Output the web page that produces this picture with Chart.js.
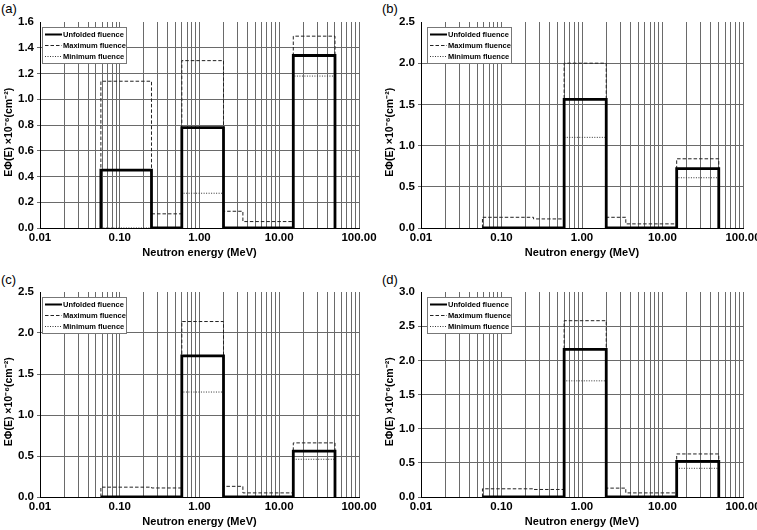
<!DOCTYPE html>
<html>
<head>
<meta charset="utf-8">
<script src="https://cdn.jsdelivr.net/npm/chart.js@4.4.1/dist/chart.umd.min.js"></script>
<style>
  html, body { margin: 0; padding: 0; background: #fff; width: 757px; height: 530px; overflow: hidden; }
  .panel { position: absolute; }
  .tag { position: absolute; font: 13px "Liberation Sans", Arial, sans-serif; color: #000; line-height: 13px; }
</style>
</head>
<body>
<div class="tag" style="left:1px;top:2px">(a)</div>
<div class="tag" style="left:382px;top:2px">(b)</div>
<div class="tag" style="left:1px;top:273px">(c)</div>
<div class="tag" style="left:382px;top:273px">(d)</div>
<div class="panel" id="panel-a"><canvas id="chart-a"></canvas></div>
<div class="panel" id="panel-b"><canvas id="chart-b"></canvas></div>
<div class="panel" id="panel-c"><canvas id="chart-c"></canvas></div>
<div class="panel" id="panel-d"><canvas id="chart-d"></canvas></div>
<script>
// bin edges of the unfolding (MeV), same for every panel
const energyEdges = [0.058, 0.25, 0.6, 2.0, 3.5, 15, 50];
const decadeTicks = [0.01, 0.1, 1, 10, 100];
const seriesLabels = ['Unfolded fluence', 'Maximum fluence', 'Minimum fluence'];

// one value per bin, x10^-6 cm^-2
const unfoldedA = [0.45, 0, 0.78, 0, 0, 1.34];
const maximumA  = [1.14, 0.11, 1.30, 0.13, 0.05, 1.49];
const minimumA  = [0, 0, 0.27, 0, 0, 1.18];

const unfoldedB = [0, 0, 1.56, 0, 0, 0.72];
const maximumB  = [0.13, 0.11, 2.00, 0.13, 0.05, 0.84];
const minimumB  = [0, 0, 1.10, 0, 0, 0.61];

const unfoldedC = [0, 0, 1.72, 0, 0, 0.56];
const maximumC  = [0.12, 0.11, 2.14, 0.13, 0.05, 0.66];
const minimumC  = [0, 0, 1.28, 0, 0, 0.46];

const unfoldedD = [0, 0, 2.16, 0, 0, 0.52];
const maximumD  = [0.12, 0.11, 2.58, 0.13, 0.06, 0.63];
const minimumD  = [0, 0, 1.70, 0, 0, 0.42];

const yMaxList  = [1.6, 2.5, 2.5, 3.0];
const yStepList = [0.2, 0.5, 0.5, 0.5];

const FONT = '"Liberation Sans", Arial, Helvetica, sans-serif';
Chart.defaults.font.family = FONT;
Chart.defaults.color = '#000';

// log grid: 1..9 in every decade
const gridTicks = [];
decadeTicks.forEach((d, i) => {
  if (i === decadeTicks.length - 1) { gridTicks.push(d); return; }
  for (let m = 1; m <= 9; m++) gridTicks.push(Number((d * m).toPrecision(3)));
});

// histogram -> points for a stepped line
function stepPoints(edges, values) {
  const pts = [{ x: edges[0], y: 0 }];
  values.forEach((v, i) => pts.push({ x: edges[i], y: v }));
  pts.push({ x: edges[edges.length - 1], y: 0 });
  return pts;
}

// legend drawn inside the plot, top left
const insideLegend = {
  id: 'insideLegend',
  afterDatasetsDraw(chart, args, opts) {
    const { ctx, chartArea } = chart;
    const x0 = Math.round(chartArea.left + opts.dx);
    const y0 = Math.round(chartArea.top + opts.dy);
    ctx.save();
    ctx.fillStyle = '#fff';
    ctx.fillRect(x0, y0, opts.width, opts.height);
    ctx.strokeStyle = '#777';
    ctx.lineWidth = 1;
    ctx.strokeRect(x0 + 0.5, y0 + 0.5, opts.width, opts.height);
    chart.data.datasets.forEach((ds, i) => {
      const y = Math.round(y0 + 7 + i * 11) + 0.5;
      ctx.setLineDash(ds.borderDash || []);
      ctx.lineWidth = i === 0 ? 2 : 1;
      ctx.strokeStyle = ds.borderColor;
      ctx.beginPath();
      ctx.moveTo(x0 + 3, y);
      ctx.lineTo(x0 + 20, y);
      ctx.stroke();
      ctx.setLineDash([]);
      ctx.fillStyle = '#000';
      ctx.font = 'bold 7.5px ' + FONT;
      ctx.textBaseline = 'middle';
      ctx.fillText(ds.label, x0 + 21, y);
    });
    ctx.restore();
  }
};

function makePanel(key, plot, unfolded, maximum, minimum, yMax, yStep, legendDx) {
  const panel = document.getElementById('panel-' + key);
  const canvas = document.getElementById('chart-' + key);
  const w = plot.right - plot.left + 60;
  const h = plot.bottom - plot.top + 59;
  panel.style.left = (plot.left - 40) + 'px';
  panel.style.top = (plot.top - 22) + 'px';
  canvas.width = w;
  canvas.height = h;

  return new Chart(canvas, {
    type: 'line',
    data: {
      datasets: [{
        label: seriesLabels[0],
        data: stepPoints(energyEdges, unfolded),
        borderColor: '#000',
        borderWidth: 2.8
      }, {
        label: seriesLabels[1],
        data: stepPoints(energyEdges, maximum),
        borderColor: '#222',
        borderWidth: 1,
        borderDash: [3.5, 2]
      }, {
        label: seriesLabels[2],
        data: stepPoints(energyEdges, minimum),
        borderColor: '#333',
        borderWidth: 1,
        borderDash: [1, 1.5]
      }]
    },
    options: {
      responsive: false,
      animation: false,
      elements: {
        line: { stepped: 'before', tension: 0, fill: false },
        point: { radius: 0 }
      },
      layout: { padding: { left: 0, top: 22, right: 20, bottom: 0 } },
      plugins: {
        legend: { display: false },
        tooltip: { enabled: false },
        insideLegend: { dx: legendDx, dy: 5, width: 84, height: 36 }
      },
      scales: {
        x: {
          type: 'logarithmic',
          min: 0.01,
          max: 100,
          afterBuildTicks: s => { s.ticks = gridTicks.map(v => ({ value: v })); },
          afterFit: s => { s.height = 37; s.paddingLeft = 0; s.paddingRight = 0; },
          ticks: {
            autoSkip: false,
            maxRotation: 0,
            padding: 3,
            font: { size: 11.5, weight: 'bold' },
            callback: v => decadeTicks.includes(v) ? v.toFixed(2) : ''
          },
          grid: { color: '#6a6a6a', lineWidth: 1, drawTicks: false },
          border: { color: '#000', width: 1 },
          title: {
            display: true,
            text: 'Neutron energy (MeV)',
            font: { size: 11, weight: 'bold' },
            padding: { top: 0, bottom: 5.4 }
          }
        },
        y: {
          min: 0,
          max: yMax,
          afterFit: s => { s.width = 40; s.paddingTop = 0; s.paddingBottom = 0; },
          ticks: {
            stepSize: yStep,
            padding: 3,
            font: { size: 11.5, weight: 'bold' },
            callback: v => v.toFixed(1)
          },
          grid: {
            color: c => (c.tick && c.tick.value >= yMax - 1e-9) ? 'rgba(0,0,0,0)' : '#6a6a6a',
            lineWidth: 1,
            tickLength: 3
          },
          border: { color: '#000', width: 1 },
          title: {
            display: true,
            // trailing spaces push the centred title a little lower, as in the original
            text: 'EΦ(E) ×10⁻⁶(cm⁻²)\u00a0\u00a0\u00a0\u00a0\u00a0',
            font: { size: 10.5, weight: 'bold' },
            padding: { top: 2.5, bottom: 0 }
          }
        }
      }
    },
    plugins: [insideLegend]
  });
}

makePanel('a', { left: 40, top: 22, right: 359, bottom: 228 }, unfoldedA, maximumA, minimumA, yMaxList[0], yStepList[0], 2);
makePanel('b', { left: 421, top: 22, right: 743, bottom: 228 }, unfoldedB, maximumB, minimumB, yMaxList[1], yStepList[1], 6);
makePanel('c', { left: 40, top: 292, right: 359, bottom: 497 }, unfoldedC, maximumC, minimumC, yMaxList[2], yStepList[2], 2);
makePanel('d', { left: 421, top: 292, right: 743, bottom: 497 }, unfoldedD, maximumD, minimumD, yMaxList[3], yStepList[3], 6);
</script>
</body>
</html>
